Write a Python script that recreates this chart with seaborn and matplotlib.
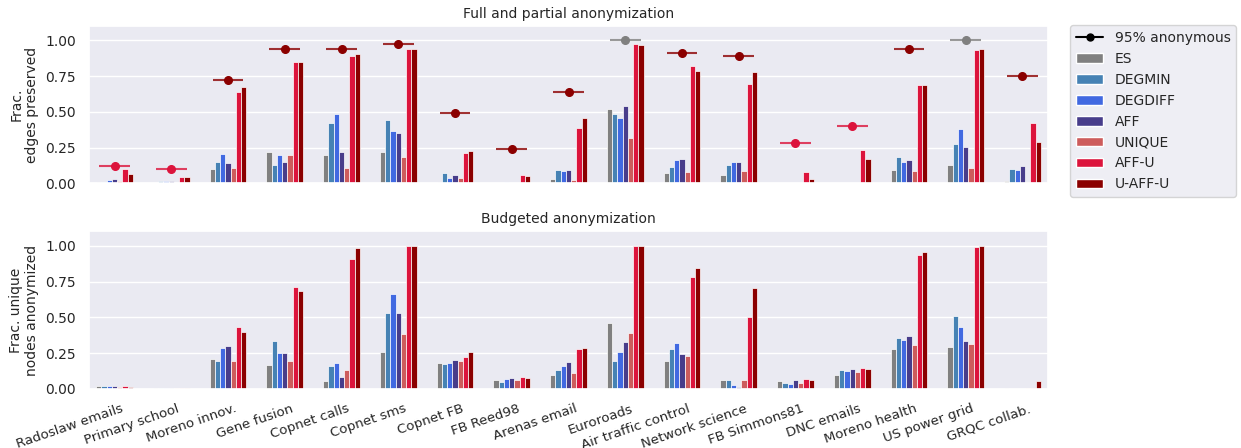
import numpy as np
import pandas as pd
import matplotlib
matplotlib.use("Agg")
import matplotlib.pyplot as plt
from matplotlib.lines import Line2D
from matplotlib.patches import Patch
import seaborn as sns

datasets = ["Radoslaw emails", "Primary school", "Moreno innov.", "Gene fusion",
            "Copnet calls", "Copnet sms", "Copnet FB", "FB Reed98", "Arenas email",
            "Euroroads", "Air traffic control", "Network science", "FB Simmons81",
            "DNC emails", "Moreno health", "US power grid", "GRQC collab."]
methods = ["ES", "DEGMIN", "DEGDIFF", "AFF", "UNIQUE", "AFF-U", "U-AFF-U"]
palette = {"ES": "#808080", "DEGMIN": "#4682b4", "DEGDIFF": "#4169e1", "AFF": "#483d8b",
           "UNIQUE": "#cd5c5c", "AFF-U": "#dc143c", "U-AFF-U": "#8b0000"}

# Full and partial anonymization: frac. edges preserved
edges_es      = [0.007, 0.003, 0.103, 0.217, 0.201, 0.219, 0.010, 0.0, 0.029, 0.517, 0.073, 0.059, 0.0, 0.0, 0.094, 0.127, 0.015]
edges_degmin  = [0.010, 0.018, 0.147, 0.130, 0.422, 0.445, 0.073, 0.0, 0.092, 0.482, 0.117, 0.129, 0.0, 0.004, 0.187, 0.278, 0.101]
edges_degdiff = [0.022, 0.018, 0.205, 0.196, 0.482, 0.366, 0.038, 0.007, 0.087, 0.454, 0.164, 0.150, 0.0, 0.0, 0.147, 0.380, 0.092]
edges_aff     = [0.030, 0.018, 0.145, 0.152, 0.217, 0.354, 0.059, 0.005, 0.092, 0.538, 0.173, 0.150, 0.0, 0.0, 0.164, 0.252, 0.120]
edges_unique  = [0.016, 0.0, 0.108, 0.196, 0.108, 0.182, 0.036, 0.0, 0.024, 0.317, 0.080, 0.087, 0.0, 0.0, 0.087, 0.110, 0.009]
edges_affu    = [0.100, 0.042, 0.640, 0.851, 0.893, 0.942, 0.215, 0.059, 0.390, 0.974, 0.818, 0.693, 0.082, 0.233, 0.689, 0.935, 0.419]
edges_uaffu   = [0.066, 0.042, 0.672, 0.851, 0.904, 0.937, 0.224, 0.052, 0.456, 0.970, 0.788, 0.777, 0.034, 0.173, 0.691, 0.940, 0.292]

# 95% anonymous point and the method that reaches it
anon95_value  = [0.12, 0.10, 0.72, 0.94, 0.94, 0.975, 0.49, 0.24, 0.64, 1.00, 0.91, 0.89, 0.28, 0.40, 0.94, 1.00, 0.75]
anon95_method = ["AFF-U", "AFF-U", "U-AFF-U", "U-AFF-U", "U-AFF-U", "U-AFF-U", "U-AFF-U", "U-AFF-U",
                 "U-AFF-U", "ES", "U-AFF-U", "U-AFF-U", "AFF-U", "AFF-U", "U-AFF-U", "ES", "U-AFF-U"]

# Budgeted anonymization: frac. unique nodes anonymized
nodes_es      = [0.021, 0.004, 0.207, 0.165, 0.056, 0.260, 0.179, 0.065, 0.100, 0.463, 0.195, 0.065, 0.053, 0.100, 0.279, 0.291, 0.003]
nodes_degmin  = [0.017, 0.004, 0.198, 0.337, 0.163, 0.528, 0.177, 0.049, 0.135, 0.195, 0.281, 0.060, 0.042, 0.135, 0.356, 0.509, 0.002]
nodes_degdiff = [0.018, 0.004, 0.288, 0.251, 0.179, 0.663, 0.184, 0.067, 0.160, 0.260, 0.323, 0.026, 0.037, 0.123, 0.342, 0.435, 0.002]
nodes_aff     = [0.017, 0.005, 0.300, 0.251, 0.086, 0.528, 0.202, 0.077, 0.188, 0.328, 0.247, 0.010, 0.060, 0.140, 0.372, 0.333, 0.002]
nodes_unique  = [0.010, 0.004, 0.198, 0.195, 0.133, 0.381, 0.193, 0.063, 0.114, 0.393, 0.230, 0.065, 0.044, 0.119, 0.309, 0.314, 0.007]
nodes_affu    = [0.021, 0.005, 0.433, 0.712, 0.907, 1.000, 0.223, 0.081, 0.279, 1.000, 0.781, 0.502, 0.072, 0.149, 0.937, 0.991, 0.004]
nodes_uaffu   = [0.010, 0.004, 0.398, 0.681, 0.981, 1.000, 0.256, 0.074, 0.288, 1.000, 0.844, 0.702, 0.065, 0.137, 0.958, 0.998, 0.058]


def to_long(cols):
    rows = []
    for m, vals in zip(methods, cols):
        for d, v in zip(datasets, vals):
            rows.append({"dataset": d, "method": m, "value": v})
    return pd.DataFrame(rows)


edges_df = to_long([edges_es, edges_degmin, edges_degdiff, edges_aff, edges_unique, edges_affu, edges_uaffu])
nodes_df = to_long([nodes_es, nodes_degmin, nodes_degdiff, nodes_aff, nodes_unique, nodes_affu, nodes_uaffu])

sns.set_theme(style="darkgrid")
plt.rcParams["font.family"] = ["DejaVu Sans"]

fig, (ax1, ax2) = plt.subplots(2, 1, figsize=(12.41, 4.48), dpi=100)
fig.subplots_adjust(left=0.0717, right=0.8445, top=0.942, bottom=0.132, hspace=0.305)

for ax, df in [(ax1, edges_df), (ax2, nodes_df)]:
    sns.barplot(data=df, x="dataset", y="value", hue="method", order=datasets,
                hue_order=methods, palette=palette, width=0.645, saturation=1,
                errorbar=None, edgecolor="white", linewidth=0.5, legend=False, ax=ax)
    ax.set_xlim(-0.45, 16.45)
    ax.set_ylim(0, 1.1)
    ax.set_yticks([0, 0.25, 0.5, 0.75, 1.0])
    ax.set_yticklabels(["0.00", "0.25", "0.50", "0.75", "1.00"], fontsize=10)
    ax.set_xticks(np.arange(len(datasets)) + 0.176)
    ax.set_xlabel("")

for i, (v, m) in enumerate(zip(anon95_value, anon95_method)):
    ax1.errorbar(i, v, xerr=0.27, fmt="o", color=palette[m], markersize=5.5,
                 ecolor=matplotlib.colors.to_rgba(palette[m], 0.8),
                 elinewidth=1.5, capsize=0, zorder=5)

ax1.set_xticklabels([])
ax2.set_xticklabels(datasets, rotation=19, ha="right", fontsize=9.6)
ax1.set_title("Full and partial anonymization", fontsize=10)
ax2.set_title("Budgeted anonymization", fontsize=10)
ax1.set_ylabel("Frac.\nedges preserved", fontsize=10)
ax2.set_ylabel("Frac. unique\nnodes anonymized", fontsize=10)

handles = [Line2D([0], [0], color="black", marker="o", markersize=5, lw=1.5)]
handles += [Patch(facecolor=palette[m], edgecolor="white") for m in methods]
ax1.legend(handles, ["95% anonymous"] + methods, loc="upper left",
           bbox_to_anchor=(1.023, 1.005), borderaxespad=0, fontsize=10)

plt.savefig("out.png", dpi=100)
plt.close()
